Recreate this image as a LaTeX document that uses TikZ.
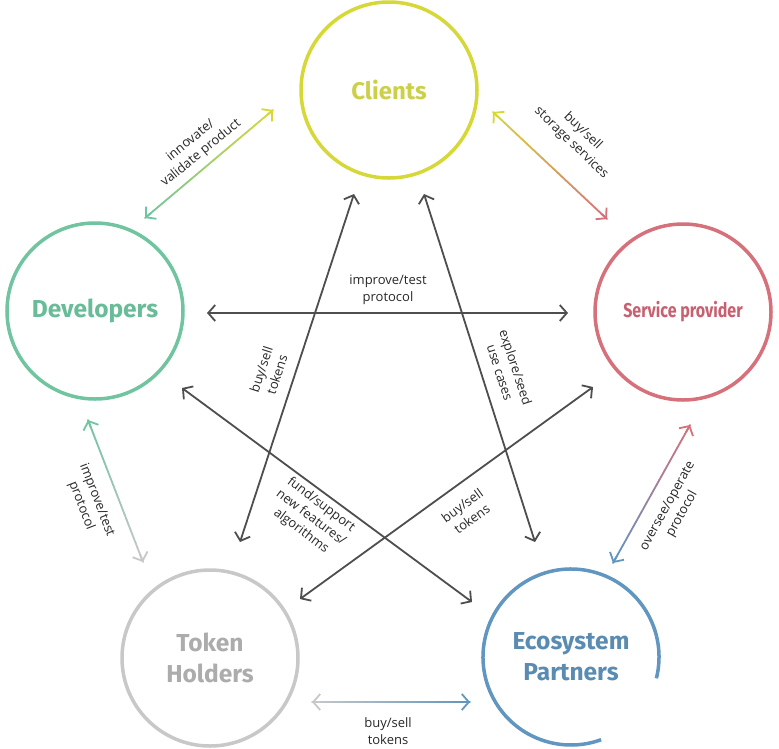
\documentclass[tikz,border=0pt]{standalone}
\usepackage{fontspec}
\setmainfont{Open Sans}
\newfontfamily\titlefont{Fira Sans}
\newfontfamily\condfont[FakeStretch=0.8]{Fira Sans}
\usetikzlibrary{arrows.meta,calc}

\definecolor{clC}{RGB}{214,216,56}
\definecolor{clT}{RGB}{204,208,72}
\definecolor{devC}{RGB}{112,196,160}
\definecolor{devT}{RGB}{104,188,152}
\definecolor{spC}{RGB}{214,112,122}
\definecolor{spT}{RGB}{200,96,112}
\definecolor{thC}{RGB}{200,200,200}
\definecolor{thT}{RGB}{172,172,172}
\definecolor{ecoC}{RGB}{96,150,192}
\definecolor{ecoT}{RGB}{90,140,178}
\definecolor{arrC}{RGB}{78,78,78}
\definecolor{labC}{RGB}{40,40,40}

\tikzset{
  ring/.style={circle, draw, line width=3.5pt, minimum size=176pt, inner sep=0pt, outer sep=0pt, align=center},
  lbl/.style={font=\fontsize{13}{16.5}\selectfont, text=labC, align=center, inner sep=0pt},
  tip/.tip={Straight Barb[length=7pt,width=16pt]},
  darrow/.style={line width=1.8pt, draw=arrC, tip-tip},
}

\newcommand\gradarrow[4]{%
  \foreach \i in {1,...,30}{%
    \pgfmathsetmacro\ta{(\i-1)/30}%
    \pgfmathsetmacro\tb{\i/30}%
    \pgfmathtruncatemacro\pc{round(100*(\i-0.5)/30)}%
    \draw[line width=1.8pt, line cap=round, draw=#4!\pc!#3] ($(#1)!\ta!(#2)$) -- ($(#1)!\tb!(#2)$);
  }%
  \draw[line width=1.8pt, draw=#3, tip-] (#1) -- ($(#1)!8pt!(#2)$);
  \draw[line width=1.8pt, draw=#4, -tip] ($(#2)!8pt!(#1)$) -- (#2);
}

\begin{document}
\begin{tikzpicture}[x=1pt,y=-1pt]
\useasboundingbox[fill=white] (0,0) rectangle (779,748);

% circles
\node[ring, draw=clC, text=clT, font=\titlefont\bfseries\fontsize{24}{30}\selectfont] (cl) at (389,90) {Clients};
\node[ring, draw=devC, text=devT, font=\titlefont\bfseries\fontsize{24.5}{30}\selectfont] (dev) at (95,311) {Developers};
\node[ring, draw=spC, text=spT, font=\condfont\bfseries\fontsize{20}{24}\selectfont] (sp) at (683,312) {Service provider};
\node[ring, draw=thC, text=thT, font=\titlefont\bfseries\fontsize{24.5}{31}\selectfont] (th) at (210,658) {Token\\Holders};
\node[ring, draw=none, text=ecoT, font=\titlefont\bfseries\fontsize{24.5}{31}\selectfont] (eco) at (571,657) {Ecosystem\\Partners};
\draw[ecoC, line width=3.5pt] (eco.-14) arc[start angle=14, end angle=-290, radius=88];

% arrow end points
\coordinate (d1) at (145,218); \coordinate (c1) at (273,110);
\coordinate (c2) at (493,112); \coordinate (s1) at (607,219);
\coordinate (d2) at (207,313); \coordinate (s2) at (568,313);
\coordinate (c3) at (354,194); \coordinate (t1) at (240,542);
\coordinate (c4) at (424,194); \coordinate (e1) at (535,542);
\coordinate (d3) at (182,388); \coordinate (e2) at (472,602);
\coordinate (t2) at (300,599); \coordinate (s3) at (593,387);
\coordinate (d4) at (88,420);  \coordinate (t3) at (143,562);
\coordinate (s4) at (690,425); \coordinate (e3) at (613,563);
\coordinate (t4) at (312,702); \coordinate (e4) at (470,702);

% gradient arrows
\gradarrow{d1}{c1}{devC}{clC}
\gradarrow{c2}{s1}{clC}{spC}
\gradarrow{d4}{t3}{devC}{thC}
\gradarrow{s4}{e3}{spC}{ecoC}
\gradarrow{t4}{e4}{thC}{ecoC}

% dark arrows
\draw[darrow] (d2) -- (s2);
\draw[darrow] (c3) -- (t1);
\draw[darrow] (c4) -- (e1);
\draw[darrow] (d3) -- (e2);
\draw[darrow] (t2) -- (s3);

% labels
\node[lbl, rotate=39] (l1) at (196,147) {innovate/\\validate product};
\node[lbl, rotate=-44] (l2) at (577,137) {buy/sell\\storage services};
\node[lbl] (l3) at (388,290) {improve/test\\protocol};
\node[lbl, rotate=72] (l4) at (269,372) {buy/sell\\tokens};
\node[lbl, rotate=-72] (l5) at (508,370) {explore/seed\\use cases};
\node[lbl, rotate=-37] (l6) at (311,518) {fund/support\\new features/\\algorithms};
\node[lbl, rotate=36] (l7) at (467,512) {buy/sell\\tokens};
\node[lbl, rotate=-69] (l8) at (89,503) {improve/test\\protocol};
\node[lbl, rotate=61] (l9) at (675,510) {oversee/operate\\protocol};
\node[lbl] (l10) at (388,731) {buy/sell\\tokens};
\end{tikzpicture}
\end{document}
